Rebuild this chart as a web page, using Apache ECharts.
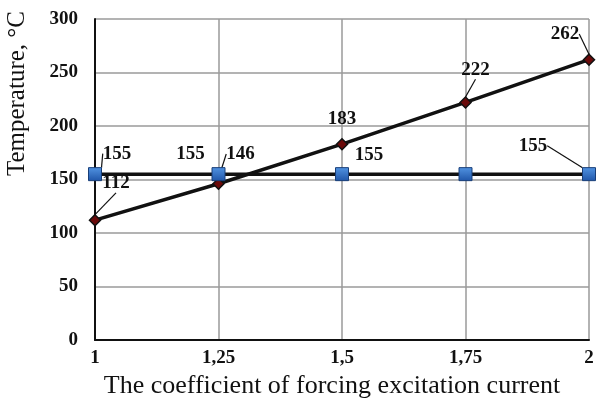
<!DOCTYPE html>
<html>
<head>
<meta charset="utf-8">
<script src="https://cdn.jsdelivr.net/npm/echarts@6/dist/echarts.min.js"></script>
<style>
  html, body { margin: 0; padding: 0; background: #fff; }
  #chart { width: 598px; height: 412px; }
</style>
</head>
<body>
<div id="chart"></div>
<script>
// Forcing coefficient categories and temperatures (°C)
const categories = ['1', '1,25', '1,5', '1,75', '2'];
const heatingTemp = [112, 146, 183, 222, 262];
const limitTemp = [155, 155, 155, 155, 155];
const yTicks = { min: 0, max: 300, step: 50 };

// Label offsets (dx, dy) relative to the default 'top' label spot, per point
const heatingLabelShift = [[21, -16], [22, -9], [0, -4], [10, -12], [-24, -5]];
const limitLabelShift = [[22, 1], [-28, 1], [27, 2], [0, 0], [-56, -7]];
const limitLabelShown = [true, true, true, false, true];
const heatingLeader = [true, true, false, true, true];
const limitLeader = [true, false, false, false, true];

const serif = '"Liberation Serif", "Times New Roman", serif';
const labelFont = { fontFamily: serif, fontWeight: 'bold', fontSize: 19, color: '#111' };

const chart = echarts.init(document.getElementById('chart'));

chart.setOption({
  backgroundColor: '#fff',
  animation: false,
  grid: { left: 95, right: 9, top: 19, bottom: 72, containLabel: false },
  xAxis: {
    type: 'category',
    data: categories,
    boundaryGap: false,
    name: 'The coefficient of forcing excitation current',
    nameLocation: 'middle',
    nameGap: 31,
    nameTextStyle: { fontFamily: serif, fontSize: 26, color: '#111', padding: [0, 20, 0, 0] },
    axisLine: { lineStyle: { color: '#111', width: 2 } },
    axisTick: { show: false },
    axisLabel: { fontFamily: serif, fontWeight: 'bold', fontSize: 19, color: '#111', margin: 9 },
    splitLine: { show: true, lineStyle: { color: '#9a9a9a', width: 1.5 } }
  },
  yAxis: {
    type: 'value',
    min: yTicks.min,
    max: yTicks.max,
    interval: yTicks.step,
    axisLine: { show: true, lineStyle: { color: '#111', width: 2 } },
    axisTick: { show: false },
    axisLabel: { fontFamily: serif, fontWeight: 'bold', fontSize: 19, color: '#111', margin: 17 },
    splitLine: { lineStyle: { color: '#9a9a9a', width: 1.5 } }
  },
  graphic: [{
    type: 'text',
    left: 5,
    top: 11,
    rotation: Math.PI / 2,
    style: {
      text: 'Temperature, °C',
      font: '25px ' + serif,
      fill: '#111'
    }
  }],
  series: [
    {
      name: 'heating',
      type: 'line',
      data: heatingTemp.map((v, i) => ({
        value: v,
        labelLine: { show: heatingLeader[i] }
      })),
      symbol: 'diamond',
      symbolSize: 11,
      z: 2,
      lineStyle: { color: '#111', width: 3.5 },
      itemStyle: { color: '#6a0a0a', borderColor: '#111', borderWidth: 1.5 },
      label: Object.assign({ show: true, position: 'top', distance: 5 }, labelFont),
      labelLine: { show: true, lineStyle: { color: '#111', width: 1.2 } },
      labelLayout: p => ({ dx: heatingLabelShift[p.dataIndex][0], dy: heatingLabelShift[p.dataIndex][1] })
    },
    {
      name: 'limit',
      type: 'line',
      data: limitTemp.map((v, i) => ({
        value: v,
        label: { show: limitLabelShown[i] },
        labelLine: { show: limitLeader[i] }
      })),
      symbol: 'rect',
      symbolSize: 13,
      z: 3,
      lineStyle: { color: '#111', width: 3.5 },
      itemStyle: {
        color: new echarts.graphic.LinearGradient(0, 0, 0, 1, [
          { offset: 0, color: '#5294e2' },
          { offset: 1, color: '#1f55a8' }
        ]),
        borderColor: '#183e78',
        borderWidth: 1
      },
      label: Object.assign({ show: true, position: 'top', distance: 5 }, labelFont),
      labelLine: { show: true, lineStyle: { color: '#111', width: 1.2 } },
      labelLayout: p => ({ dx: limitLabelShift[p.dataIndex][0], dy: limitLabelShift[p.dataIndex][1] })
    }
  ]
});
</script>
</body>
</html>
